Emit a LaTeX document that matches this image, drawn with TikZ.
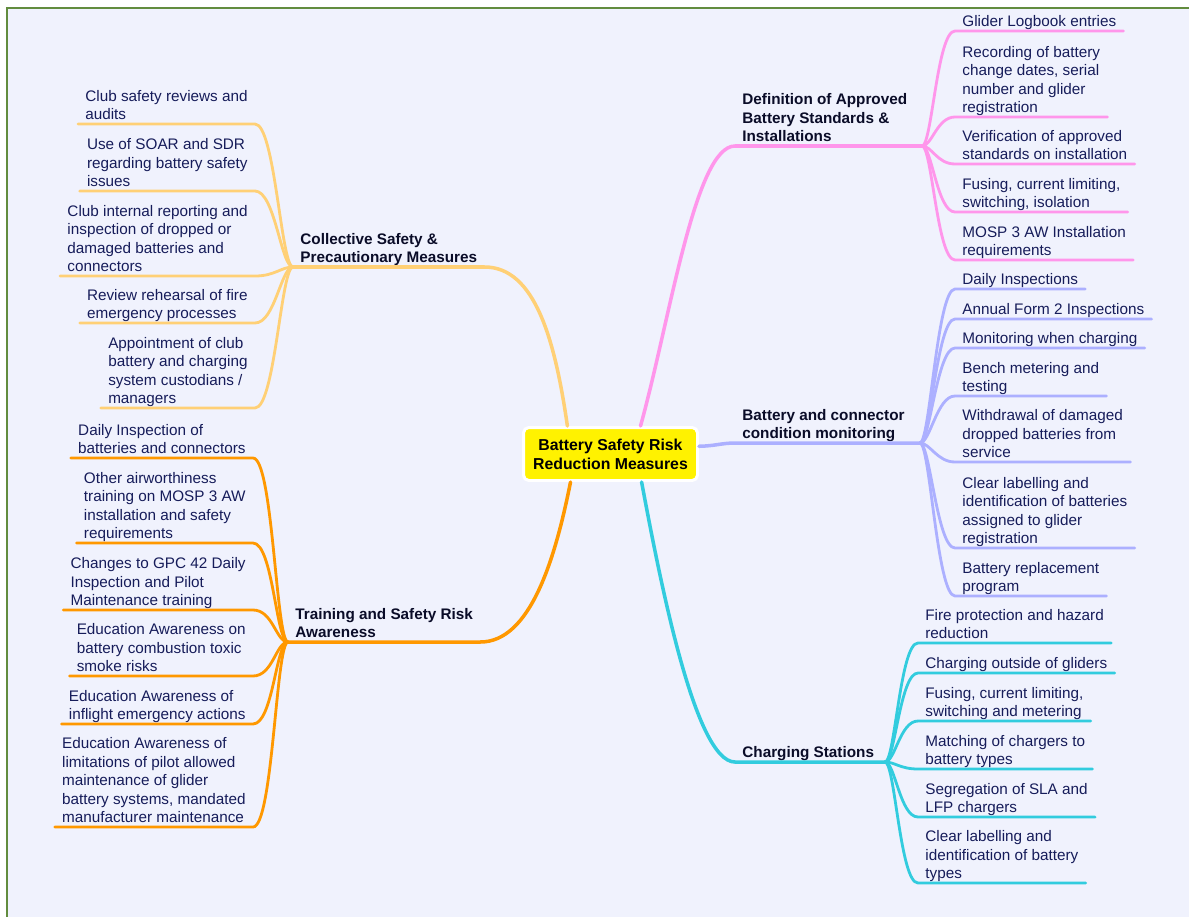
\documentclass[tikz,border=0pt]{standalone}
\usepackage{fontspec}
\setmainfont{Liberation Sans}
\usepackage{tikz}
\usetikzlibrary{positioning,calc}

\definecolor{bgpanel}{RGB}{240,242,253}
\definecolor{framegreen}{RGB}{98,140,62}
\definecolor{leafink}{RGB}{22,28,90}
\definecolor{headink}{RGB}{10,12,40}
\definecolor{brpink}{RGB}{255,150,235}
\definecolor{brlav}{RGB}{172,176,255}
\definecolor{brcyan}{RGB}{50,204,222}
\definecolor{bramber}{RGB}{255,208,118}
\definecolor{brorange}{RGB}{255,152,0}

\newcommand{\linestrut}{\rule[-2.3pt]{0pt}{7pt}}

\begin{document}
\begin{tikzpicture}[
    x=0.02cm, y=-0.02cm,
    font=\fontsize{8.7}{10.5}\selectfont,
    root/.style={rectangle, rounded corners=3pt, draw=white, line width=1.7pt, fill=yellow, minimum width=3.48cm, minimum height=1.06cm, align=center, text=black, font=\fontsize{9}{10.8}\selectfont\bfseries},
    head/.style={anchor=south west, align=left, inner xsep=4pt, inner ysep=0pt, text=headink, execute at end node=\linestrut, font=\fontsize{8.7}{10.5}\selectfont\bfseries},
    leafR/.style={anchor=south west, align=left, inner xsep=4pt, inner ysep=0pt, text=leafink, execute at end node=\linestrut},
    leafL/.style={leafR, anchor=south east},
    trunk/.style={line width=2pt, line cap=round},
    twig/.style={line width=1.6pt, line cap=round}
]
    \clip (0,0) rectangle (1189,916);
    \draw[framegreen, line width=1.2pt, fill=bgpanel] (7,8) rectangle (1200,930);

    % centre
    \node[root] (root) at (610.5,454) {Battery Safety Risk\\Reduction Measures};

    % hubs
    \coordinate (defhub) at (922,146);
    \coordinate (monhub) at (920,443);
    \coordinate (chghub) at (885,762);
    \coordinate (colhub) at (293,267);
    \coordinate (trnhub) at (288,642);

    % main branches
    \node[head] (defhead) at (735,146) {Definition of Approved\\Battery Standards \&\\Installations};
    \node[head] (monhead) at (735,443) {Battery and connector\\condition monitoring};
    \node[head] (chghead) at (735,762) {Charging Stations};
    \node[head] (colhead) at (colhub) {Collective Safety \&\\Precautionary Measures};
    \node[head] (trnhead) at (trnhub) {Training and Safety Risk\\Awareness};
    \draw[trunk, brpink] (root.43) .. controls (670,320) and (695,146) .. (defhead.south west) -- (defhub);
    \draw[trunk, brlav] (root.5) .. controls (715,446) and (722,443) .. (monhead.south west) -- (monhub);
    \draw[trunk, brcyan] (root.-42) .. controls (660,580) and (695,762) .. (chghead.south west) -- (chghub);
    \draw[trunk, bramber] (root.147) .. controls (555,340) and (535,267) .. (colhead.south east) -- (colhub);
    \draw[trunk, brorange] (root.-145) .. controls (555,560) and (530,642) .. (trnhead.south east) -- (trnhub);

    % approved standards
    \node[leafR] (def1) at (955,31) {Glider Logbook entries};
    \node[leafR] (def2) at (955,117) {Recording of battery\\change dates, serial\\number and glider\\registration};
    \node[leafR] (def3) at (955,164) {Verification of approved\\standards on installation};
    \node[leafR] (def4) at (955,212) {Fusing, current limiting,\\switching, isolation};
    \node[leafR] (def5) at (955,260) {MOSP 3 AW Installation\\requirements};
    \draw[twig, brpink] (defhub) .. controls +(10,0) and +(-18,0) .. (def1.south west) -- (def1.south east);
    \draw[twig, brpink] (defhub) .. controls +(10,0) and +(-18,0) .. (def2.south west) -- (def2.south east);
    \draw[twig, brpink] (defhub) .. controls +(10,0) and +(-18,0) .. (def3.south west) -- (def3.south east);
    \draw[twig, brpink] (defhub) .. controls +(10,0) and +(-18,0) .. (def4.south west) -- (def4.south east);
    \draw[twig, brpink] (defhub) .. controls +(10,0) and +(-18,0) .. (def5.south west) -- (def5.south east);

    % condition monitoring
    \node[leafR] (mon1) at (955,289) {Daily Inspections};
    \node[leafR] (mon2) at (955,319) {Annual Form 2 Inspections};
    \node[leafR] (mon3) at (955,348) {Monitoring when charging};
    \node[leafR] (mon4) at (955,396) {Bench metering and\\testing};
    \node[leafR] (mon5) at (955,462) {Withdrawal of damaged\\dropped batteries from\\service};
    \node[leafR] (mon6) at (955,548) {Clear labelling and\\identification of batteries\\assigned to glider\\registration};
    \node[leafR] (mon7) at (955,596) {Battery replacement\\program};
    \draw[twig, brlav] (monhub) .. controls +(10,0) and +(-18,0) .. (mon1.south west) -- (mon1.south east);
    \draw[twig, brlav] (monhub) .. controls +(10,0) and +(-18,0) .. (mon2.south west) -- (mon2.south east);
    \draw[twig, brlav] (monhub) .. controls +(10,0) and +(-18,0) .. (mon3.south west) -- (mon3.south east);
    \draw[twig, brlav] (monhub) .. controls +(10,0) and +(-18,0) .. (mon4.south west) -- (mon4.south east);
    \draw[twig, brlav] (monhub) .. controls +(10,0) and +(-18,0) .. (mon5.south west) -- (mon5.south east);
    \draw[twig, brlav] (monhub) .. controls +(10,0) and +(-18,0) .. (mon6.south west) -- (mon6.south east);
    \draw[twig, brlav] (monhub) .. controls +(10,0) and +(-18,0) .. (mon7.south west) -- (mon7.south east);

    % charging stations
    \node[leafR] (chg1) at (918,643) {Fire protection and hazard\\reduction};
    \node[leafR] (chg2) at (918,673) {Charging outside of gliders};
    \node[leafR] (chg3) at (918,721) {Fusing, current limiting,\\switching and metering};
    \node[leafR] (chg4) at (918,769) {Matching of chargers to\\battery types};
    \node[leafR] (chg5) at (918,817) {Segregation of SLA and\\LFP chargers};
    \node[leafR] (chg6) at (918,883) {Clear labelling and\\identification of battery\\types};
    \draw[twig, brcyan] (chghub) .. controls +(10,0) and +(-18,0) .. (chg1.south west) -- (chg1.south east);
    \draw[twig, brcyan] (chghub) .. controls +(10,0) and +(-18,0) .. (chg2.south west) -- (chg2.south east);
    \draw[twig, brcyan] (chghub) .. controls +(10,0) and +(-18,0) .. (chg3.south west) -- (chg3.south east);
    \draw[twig, brcyan] (chghub) .. controls +(10,0) and +(-18,0) .. (chg4.south west) -- (chg4.south east);
    \draw[twig, brcyan] (chghub) .. controls +(10,0) and +(-18,0) .. (chg5.south west) -- (chg5.south east);
    \draw[twig, brcyan] (chghub) .. controls +(10,0) and +(-18,0) .. (chg6.south west) -- (chg6.south east);

    % collective safety
    \node[leafL] (col1) at (255,124) {Club safety reviews and\\audits};
    \node[leafL] (col2) at (255,191) {Use of SOAR and SDR\\regarding battery safety\\issues};
    \node[leafL] (col3) at (255,276) {Club internal reporting and\\inspection of dropped or\\damaged batteries and\\connectors};
    \node[leafL] (col4) at (255,323) {Review rehearsal of fire\\emergency processes};
    \node[leafL] (col5) at (255,408) {Appointment of club\\battery and charging\\system custodians /\\managers};
    \draw[twig, bramber] (colhub) .. controls +(-12,0) and +(20,0) .. (col1.south east) -- (col1.south west);
    \draw[twig, bramber] (colhub) .. controls +(-12,0) and +(20,0) .. (col2.south east) -- (col2.south west);
    \draw[twig, bramber] (colhub) .. controls +(-12,0) and +(20,0) .. (col3.south east) -- (col3.south west);
    \draw[twig, bramber] (colhub) .. controls +(-12,0) and +(20,0) .. (col4.south east) -- (col4.south west);
    \draw[twig, bramber] (colhub) .. controls +(-12,0) and +(20,0) .. (col5.south east) -- (col5.south west);

    % training
    \node[leafL] (trn1) at (253,458) {Daily Inspection of\\batteries and connectors};
    \node[leafL] (trn2) at (253,543) {Other airworthiness\\training on MOSP 3 AW\\installation and safety\\requirements};
    \node[leafL] (trn3) at (253,610) {Changes to GPC 42 Daily\\Inspection and Pilot\\Maintenance training};
    \node[leafL] (trn4) at (253,676) {Education Awareness on\\battery combustion toxic\\smoke risks};
    \node[leafL] (trn5) at (253,724) {Education Awareness of\\inflight emergency actions};
    \node[leafL] (trn6) at (253,827) {Education Awareness of\\limitations of pilot allowed\\maintenance of glider\\battery systems, mandated\\manufacturer maintenance};
    \draw[twig, brorange] (trnhub) .. controls +(-12,0) and +(20,0) .. (trn1.south east) -- (trn1.south west);
    \draw[twig, brorange] (trnhub) .. controls +(-12,0) and +(20,0) .. (trn2.south east) -- (trn2.south west);
    \draw[twig, brorange] (trnhub) .. controls +(-12,0) and +(20,0) .. (trn3.south east) -- (trn3.south west);
    \draw[twig, brorange] (trnhub) .. controls +(-12,0) and +(20,0) .. (trn4.south east) -- (trn4.south west);
    \draw[twig, brorange] (trnhub) .. controls +(-12,0) and +(20,0) .. (trn5.south east) -- (trn5.south west);
    \draw[twig, brorange] (trnhub) .. controls +(-12,0) and +(20,0) .. (trn6.south east) -- (trn6.south west);
\end{tikzpicture}
\end{document}
